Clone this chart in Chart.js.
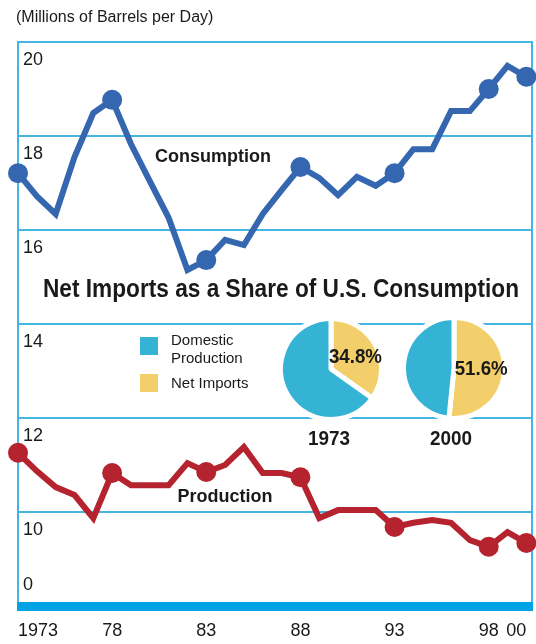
<!DOCTYPE html>
<html lang="en">
<head>
<meta charset="UTF-8" />
<title>U.S. Oil Consumption and Production</title>
<script src="https://cdn.jsdelivr.net/npm/chart.js"></script>
<style>
  body { margin: 0; background: #fff; }
  #wrap { position: relative; width: 536px; height: 644px; }
  #mainChart { position: absolute; left: 0; top: 0; }
  .pie { position: absolute; width: 120px; height: 120px; }
  #pie1973 { left: 271px; top: 309px; }
  #pie2000 { left: 394px; top: 308px; }
</style>
</head>
<body>
<div id="wrap">
  <canvas id="mainChart" width="536" height="644"></canvas>
  <canvas id="pie1973" class="pie" width="120" height="120"></canvas>
  <canvas id="pie2000" class="pie" width="120" height="120"></canvas>
</div>

<script>
// millions of barrels per day
const years = [1973, 1974, 1975, 1976, 1977, 1978, 1979, 1980, 1981, 1982,
               1983, 1984, 1985, 1986, 1987, 1988, 1989, 1990, 1991, 1992,
               1993, 1994, 1995, 1996, 1997, 1998, 1999, 2000];
const consumption = [17.21, 16.72, 16.34, 17.55, 18.49, 18.77, 17.83, 17.04, 16.26, 15.15,
                     15.36, 15.79, 15.68, 16.34, 16.85, 17.34, 17.11, 16.74, 17.13, 16.94,
                     17.21, 17.72, 17.72, 18.53, 18.53, 19.0, 19.49, 19.26];
const production = [11.26, 10.87, 10.53, 10.36, 9.87, 10.83, 10.57, 10.57, 10.57, 11.04,
                    10.85, 11.0, 11.38, 10.83, 10.83, 10.74, 9.87, 10.04, 10.04, 10.04,
                    9.68, 9.77, 9.83, 9.77, 9.40, 9.26, 9.57, 9.34];
const markerYears = [1973, 1978, 1983, 1988, 1993, 1998, 2000];
const xTickLabels = ['1973', '78', '83', '88', '93', '98', '00'];
// the axis is broken: the "0" label stands in for everything below 10
const axisBreak = 8.83;
const yTicks = [axisBreak, 10, 12, 14, 16, 18, 20];

// net imports share of consumption (%)
const shareLabels = ['Net Imports', 'Domestic Production'];
const shares1973 = [34.8, 65.2];
const shares2000 = [51.6, 48.4];

const BLUE_LINE = '#3566b0';
const RED_LINE = '#b5232f';
const GRID = '#45b6e4';
const BASE_BAR = '#00a4e4';
const PIE_BLUE = '#35b3d5';
const PIE_YELLOW = '#f2cf6a';
const TEXT = '#1a1a1a';
const FONT = '"Liberation Sans", Arial, sans-serif';

const radii = (r) => years.map((y) => (markerYears.includes(y) ? r : 0));

const frame = {
    id: 'frame',
    beforeDatasetsDraw(chart) {
        const { ctx, chartArea } = chart;
        ctx.save();
        ctx.strokeStyle = GRID;
        ctx.lineWidth = 2;
        ctx.beginPath();
        ctx.moveTo(chartArea.right, chartArea.top - 1);
        ctx.lineTo(chartArea.right, chartArea.bottom);
        ctx.stroke();
        // thick base bar under the broken axis
        ctx.fillStyle = BASE_BAR;
        ctx.fillRect(chartArea.left - 1, chartArea.bottom - 4, chartArea.right - chartArea.left + 2, 9);
        ctx.restore();
    },
    afterDraw(chart) {
        const ctx = chart.ctx;
        ctx.save();
        ctx.fillStyle = TEXT;
        ctx.textBaseline = 'middle';

        ctx.textAlign = 'left';
        ctx.font = '16px ' + FONT;
        ctx.fillText('(Millions of Barrels per Day)', 16, 18);

        ctx.textAlign = 'center';
        ctx.font = 'bold 18px ' + FONT;
        ctx.fillText('Consumption', 213, 157);
        ctx.fillText('Production', 225, 497);

        ctx.font = 'bold 25px ' + FONT;
        ctx.fillText('Net Imports as a Share of U.S. Consumption', 281, 290, 476);

        ctx.font = 'bold 20px ' + FONT;
        ctx.fillText('1973', 329, 439, 42);
        ctx.fillText('2000', 451, 439, 42);

        // legend for the pies
        ctx.fillStyle = PIE_BLUE;
        ctx.fillRect(140, 337, 18, 18);
        ctx.fillStyle = PIE_YELLOW;
        ctx.fillRect(140, 374, 18, 18);
        ctx.fillStyle = TEXT;
        ctx.textAlign = 'left';
        ctx.font = '15px ' + FONT;
        ctx.fillText('Domestic', 171, 341);
        ctx.fillText('Production', 171, 359);
        ctx.fillText('Net Imports', 171, 384);
        ctx.restore();
    },
};

new Chart(document.getElementById('mainChart'), {
    type: 'line',
    data: {
        labels: years,
        datasets: [
            {
                label: 'Consumption',
                data: consumption,
                borderColor: BLUE_LINE,
                backgroundColor: BLUE_LINE,
                borderWidth: 6,
                pointRadius: radii(10),
                pointBorderWidth: 0,
                pointBackgroundColor: BLUE_LINE,
                borderJoinStyle: 'miter',
                tension: 0,
                clip: false,
            },
            {
                label: 'Production',
                data: production,
                borderColor: RED_LINE,
                backgroundColor: RED_LINE,
                borderWidth: 6,
                pointRadius: radii(10),
                pointBorderWidth: 0,
                pointBackgroundColor: RED_LINE,
                borderJoinStyle: 'miter',
                tension: 0,
                clip: false,
            },
        ],
    },
    options: {
        responsive: false,
        animation: false,
        layout: { autoPadding: false, padding: { left: 18, right: 4, top: 42, bottom: 0 } },
        scales: {
            x: {
                type: 'linear',
                min: 1973,
                max: 2000.3,
                afterBuildTicks(scale) {
                    scale.ticks = markerYears.map((v) => ({ value: v }));
                },
                grid: { display: false, drawTicks: false },
                border: { display: false },
                ticks: {
                    autoSkip: false,
                    maxRotation: 0,
                    align: 'inner',
                    padding: 14,
                    color: TEXT,
                    font: { family: FONT, size: 18 },
                    callback: (v) => xTickLabels[markerYears.indexOf(v)],
                },
                afterFit(scale) {
                    scale.height = 38;
                    scale.paddingLeft = 0;
                    scale.paddingRight = 0;
                },
            },
            y: {
                min: 8,
                max: 20,
                afterBuildTicks(scale) {
                    scale.ticks = yTicks.map((v) => ({ value: v }));
                },
                afterFit(scale) {
                    scale.width = 0;
                    scale.paddingTop = 0;
                    scale.paddingBottom = 0;
                },
                grid: {
                    drawTicks: false,
                    lineWidth: 2,
                    color: (c) => (c.tick && c.tick.value === axisBreak ? 'rgba(0,0,0,0)' : GRID),
                },
                border: { color: GRID, width: 2 },
                ticks: {
                    mirror: true,
                    padding: 5,
                    labelOffset: 18,
                    color: TEXT,
                    font: { family: FONT, size: 18 },
                    callback: (v) => (v === axisBreak ? '0' : String(v)),
                },
            },
        },
        plugins: {
            legend: { display: false },
            tooltip: { enabled: false },
        },
    },
    plugins: [frame],
});

const pctLabel = {
    id: 'pctLabel',
    afterDatasetsDraw(chart) {
        const arc = chart.getDatasetMeta(0).data[0];
        const p = arc.tooltipPosition();
        const ctx = chart.ctx;
        ctx.save();
        ctx.fillStyle = TEXT;
        ctx.font = 'bold 20px ' + FONT;
        ctx.textAlign = 'center';
        ctx.textBaseline = 'middle';
        ctx.fillText(chart.data.datasets[0].data[0].toFixed(1) + '%', p.x + 2, p.y, 53);
        ctx.restore();
    },
};

function drawPie(id, shares) {
    new Chart(document.getElementById(id), {
        type: 'pie',
        data: {
            labels: shareLabels,
            datasets: [{
                data: shares,
                backgroundColor: [PIE_YELLOW, PIE_BLUE],
                borderColor: '#ffffff',
                borderWidth: 5,
            }],
        },
        options: {
            responsive: false,
            animation: false,
            radius: 50.5,
            layout: { padding: 0 },
            plugins: { legend: { display: false }, tooltip: { enabled: false } },
        },
        plugins: [pctLabel],
    });
}

drawPie('pie1973', shares1973);
drawPie('pie2000', shares2000);
</script>
</body>
</html>
